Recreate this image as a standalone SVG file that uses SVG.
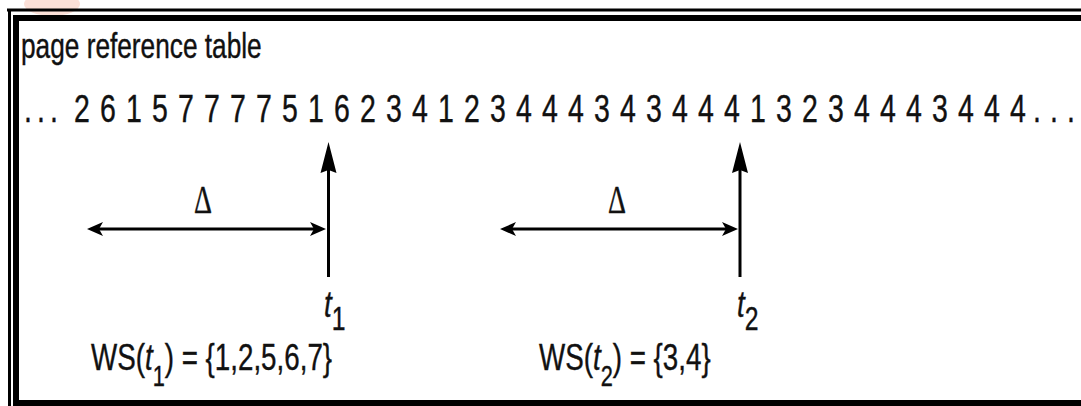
<svg xmlns="http://www.w3.org/2000/svg" width="1081" height="406" viewBox="0 0 1081 406">
  <style>
    text { font-family: "Liberation Sans", Arial, sans-serif; fill: #111; stroke: #111; stroke-width: 0.4; }
    .seq { font-size: 38px; text-anchor: middle; }
    .title { font-size: 35px; }
    .lbl { font-size: 37px; }
    .it { font-style: italic; }
    .delta { font-family: "Liberation Serif", "Times New Roman", serif; font-size: 40px; text-anchor: middle; }
    .frame { stroke: #000; fill: none; }
    .conn { stroke: #000; stroke-width: 3; fill: none; }
  </style>
  <defs>
    <marker id="smallHead" markerUnits="userSpaceOnUse" markerWidth="18" markerHeight="16" refX="9" refY="7" orient="auto-start-reverse">
      <path d="M0,0 L16,7 L0,14 L4,7 Z" fill="#000"/>
    </marker>
  </defs>
  <rect width="1081" height="406" fill="#fff"/>
  <ellipse cx="52" cy="4" rx="28" ry="12" fill="#fbe0d8"/>

  <g id="frame">
    <line class="frame" x1="7" y1="10" x2="1081" y2="10" stroke-width="3"/>
    <line class="frame" x1="9.5" y1="9" x2="9.5" y2="406" stroke-width="3"/>
    <line class="frame" x1="13" y1="18" x2="1081" y2="18" stroke-width="6"/>
    <line class="frame" x1="16" y1="15" x2="16" y2="406" stroke-width="6"/>
    <line class="frame" x1="13" y1="403" x2="1081" y2="403" stroke-width="6"/>
  </g>

  <g id="title">
    <text class="title" transform="translate(21,58) scale(0.75,1)">page reference table</text>
  </g>

  <g id="sequence" transform="translate(0,122) scale(0.75,1)">
    <text class="seq" y="0" x="37.33 54.67 72 109.33 144 178.67 213.33 248 282.67 317.33 352 386.67 421.33 456 490.67 525.33 560 594.67 629.33 664 698.67 733.33 768 802.67 837.33 872 906.67 941.33 976 1010.67 1045.33 1080 1114.67 1149.33 1184 1218.67 1253.33 1288 1322.67 1357.33 1382.67 1405.33 1428">...2615777751623412344434344413234443444...</text>
  </g>

  <g id="connectors">
    <line class="conn" x1="328.5" y1="277" x2="328.5" y2="149"/>
    <line class="conn" x1="94" y1="229" x2="319" y2="229" marker-start="url(#smallHead)" marker-end="url(#smallHead)"/>
    <line class="conn" x1="740" y1="277" x2="740" y2="149"/>
    <line class="conn" x1="507" y1="229" x2="731" y2="229" marker-start="url(#smallHead)" marker-end="url(#smallHead)"/>
    <path d="M320.5,173 L328.5,142 L336.5,173 L328.5,170 Z" fill="#000"/>
    <path d="M732,173 L740,142 L748,173 L740,170 Z" fill="#000"/>
  </g>

  <g id="delta1">
    <text class="delta" transform="translate(203,213) scale(0.7,1)">Δ</text>
  </g>
  <g id="delta2">
    <text class="delta" transform="translate(617,213) scale(0.7,1)">Δ</text>
  </g>

  <g id="t1">
    <text class="lbl" transform="translate(324,317) scale(0.75,1)"><tspan class="it" font-size="37">t</tspan><tspan font-size="33" dy="13">1</tspan></text>
  </g>
  <g id="t2">
    <text class="lbl" transform="translate(737,317) scale(0.75,1)"><tspan class="it" font-size="37">t</tspan><tspan font-size="33" dy="13">2</tspan></text>
  </g>

  <g id="ws1">
    <text class="lbl" transform="translate(91,370) scale(0.75,1)">WS(<tspan class="it">t</tspan><tspan font-size="29" dy="16">1</tspan><tspan dy="-16">) = {1,2,5,6,7}</tspan></text>
  </g>
  <g id="ws2">
    <text class="lbl" transform="translate(539,370) scale(0.75,1)">WS(<tspan class="it">t</tspan><tspan font-size="29" dy="16">2</tspan><tspan dy="-16">) = {3,4}</tspan></text>
  </g>
</svg>
